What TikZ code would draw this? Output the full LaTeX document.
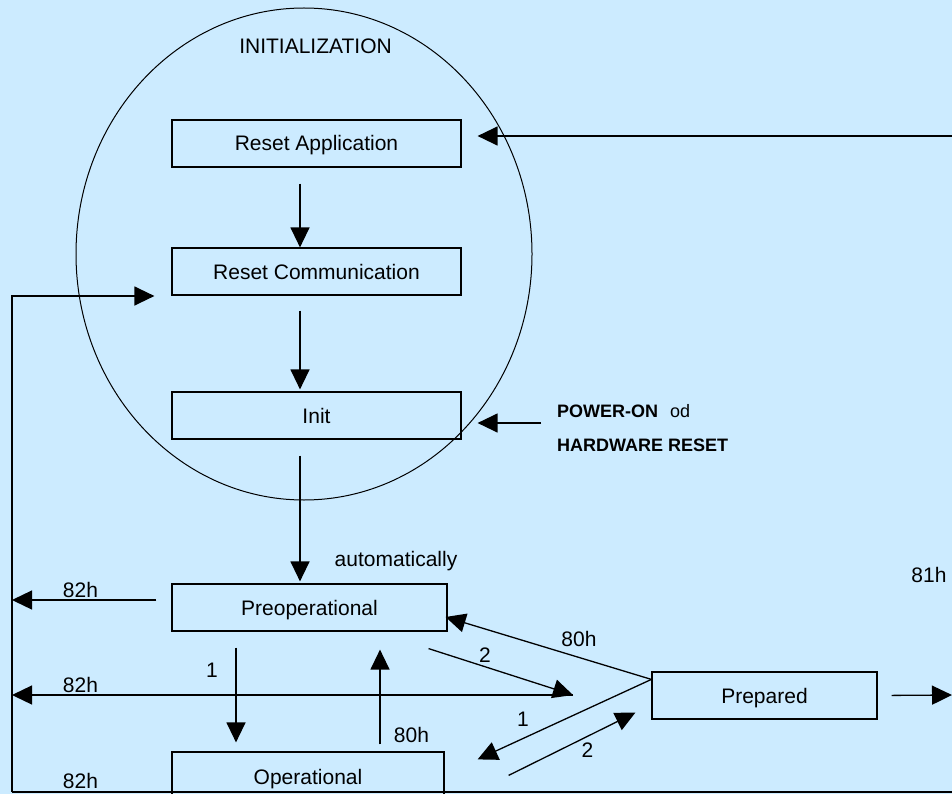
\documentclass[tikz,border=0pt]{standalone}
\usepackage{fontspec}
\setmainfont{Liberation Sans}
\usetikzlibrary{arrows.meta}
\definecolor{bgc}{HTML}{CCEBFF}
\begin{document}
\begin{tikzpicture}[x=1pt,y=-1pt,
  box/.style={draw, line width=1.2pt, inner sep=0pt, text height=15pt, text depth=0pt, font=\fontsize{21}{25}\selectfont},
  arr/.style={line width=1.3pt, -{Triangle[length=20pt,width=19pt]}},
  ln/.style={line width=1.3pt},
  lbl/.style={anchor=base, inner sep=0pt, font=\fontsize{21}{25}\selectfont},
  blbl/.style={anchor=base west, inner sep=0pt, font=\fontsize{18}{22}\selectfont\bfseries}]
\useasboundingbox (0,0) rectangle (952,794);
\fill[bgc] (0,0) rectangle (952,794);
\clip (0,0) rectangle (952,794);

% ellipse
\draw[line width=1pt] (304,254) ellipse [x radius=228, y radius=246];
\node[lbl] (initlbl) at (315.5,54) {INITIALIZATION};

% boxes
\node[box, minimum width=289pt, minimum height=47pt] (ra) at (316.5,143.5) {Reset Application};
\node[box, minimum width=289pt, minimum height=47pt] (rc) at (316.5,271.5) {Reset Communication};
\node[box, minimum width=289pt, minimum height=47pt] (init) at (316.5,415.5) {Init};
\node[box, minimum width=275pt, minimum height=47pt] (pre) at (309.5,607.5) {Preoperational};
\node[box, minimum width=272pt, minimum height=49pt] (op) at (308,776.5) {Operational};
\node[box, minimum width=225pt, minimum height=47pt] (prep) at (764.5,695.5) {Prepared};

% helper coordinates
\coordinate (c300) at (300,0);
\coordinate (c236) at (236,0);
\coordinate (c380) at (380,0);
\coordinate (rin) at (952,136);
\coordinate (lt) at (12,296);
\coordinate (lb) at (12,792);
\coordinate (rb) at (952,792);
\coordinate (pw) at (541,423);
\coordinate (l600) at (12,600);
\coordinate (j2) at (573,695);
\coordinate (l695) at (12,695);
\coordinate (r695) at (952,695);

% vertical chain
\draw[arr, shorten <=16pt] (ra.south -| c300) -- (rc.north -| c300);
\draw[arr, shorten <=15pt, shorten >=2pt] (rc.south -| c300) -- (init.north -| c300);
\draw[arr, shorten <=16pt, shorten >=2pt] (init.south -| c300) -- (pre.north -| c300);

% arrow from right into Reset Application
\draw[arr, shorten >=16pt] (rin) -- (rin -| ra.east);
% left loop into Reset Communication
\draw[arr, shorten >=17pt] (lb) -- (lt) -- (lt -| rc.west);
% power-on
\draw[arr, shorten >=16pt] (pw) -- (pw -| init.east);

% 82h lines
\draw[arr, shorten <=15pt] (pre.west |- l600) -- (l600);
\draw[arr] (j2) -- (l695);
\draw[ln] (lb) -- (rb);

% pre <-> op
\draw[arr, shorten <=16pt, shorten >=9pt] (pre.south -| c236) -- (op.north -| c236);
\draw[arr, shorten <=7pt, shorten >=18pt] (op.north -| c380) -- (pre.south -| c380);

% diagonals
\draw[arr] ([shift={(-19,17)}]pre.south east) -- (j2);
\draw[arr] ([yshift=-8pt]prep.north west) -- ([yshift=-9.5pt,xshift=-2pt]pre.east);
\draw[arr] ([yshift=-8pt]prep.north west) -- ([shift={(33,8)}]op.north east);
\draw[arr] ([shift={(64,24)}]op.north east) -- ([shift={(-16,-7)}]prep.south west);

% 81h
\draw[arr, shorten <=14pt] (prep.east) -- (r695);

% labels
\node[lbl] (auto) at (396,566) {automatically};
\node[lbl] (h82a) at (80.5,597) {82h};
\node[lbl] (h82b) at (80.5,692) {82h};
\node[lbl] (h82c) at (80.5,788) {82h};
\node[lbl] (one1) at (212,677) {1};
\node[lbl] (h80a) at (411.5,742) {80h};
\node[lbl] (h80b) at (579,646) {80h};
\node[lbl] (two1) at (485,662) {2};
\node[lbl] (one2) at (523,726) {1};
\node[lbl] (two2) at (587.5,757) {2};
\node[lbl] (h81) at (929,582) {81h};
\node[blbl] (pwon) at (557,417.7) {POWER-ON\hspace{12pt}{\mdseries od}};
\node[blbl] (hwr) at (557,451.7) {HARDWARE RESET};
\end{tikzpicture}
\end{document}
